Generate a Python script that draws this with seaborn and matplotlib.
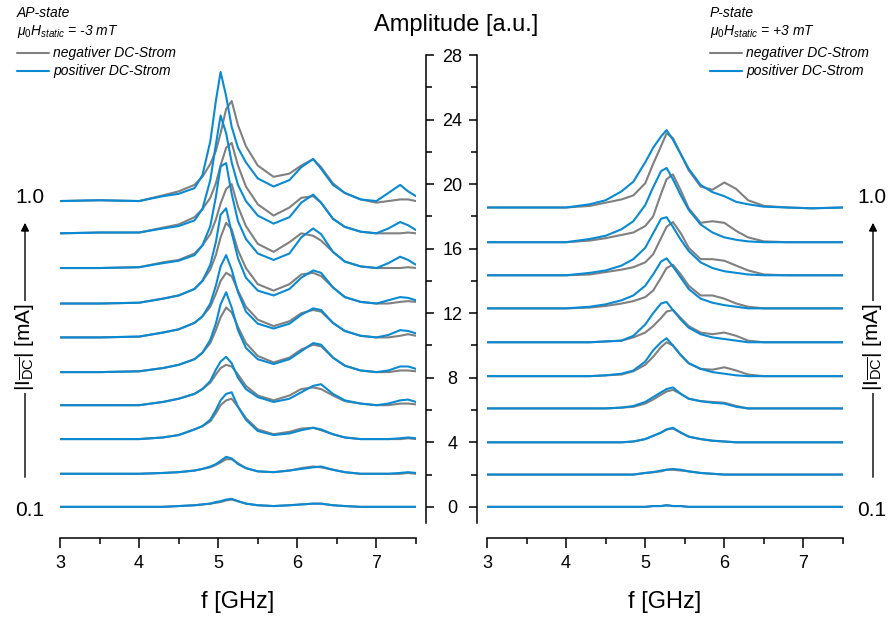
import matplotlib
matplotlib.use("Agg")
import numpy as np
import pandas as pd
import matplotlib.pyplot as plt
import seaborn as sns
from matplotlib.lines import Line2D

# frequency grids (GHz)
f_left = [3.0, 3.5, 4.0, 4.3, 4.5, 4.7, 4.8, 4.9, 4.97, 5.03, 5.1, 5.17, 5.25, 5.35,
          5.5, 5.7, 5.9, 6.05, 6.2, 6.3, 6.45, 6.6, 6.8, 7.0, 7.15, 7.3, 7.4, 7.5]
f_right = [3.0, 3.5, 4.0, 4.3, 4.5, 4.7, 4.85, 5.0, 5.1, 5.2, 5.27, 5.35, 5.45, 5.55,
           5.7, 5.85, 6.0, 6.15, 6.3, 6.5, 6.8, 7.1, 7.5]

# waterfall offsets, |I_DC| = 0.1 ... 1.0 mA
offsets_left = [0, 2.05, 4.2, 6.3, 8.35, 10.5, 12.6, 14.8, 16.95, 18.95]
offsets_right = [0, 2.0, 4.0, 6.1, 8.1, 10.2, 12.3, 14.35, 16.4, 18.55]

# AP-state, positive DC current (blue)
ap_pos = [
    [0, 0, 0, 0, 0.05, 0.1, 0.15, 0.2, 0.3, 0.35, 0.45, 0.5, 0.35, 0.2, 0.1, 0.05, 0.1, 0.15, 0.2, 0.2, 0.1, 0.05, 0, 0, 0, 0, 0, 0],
    [0, 0, 0, 0.05, 0.1, 0.2, 0.3, 0.45, 0.6, 0.8, 1.05, 0.95, 0.6, 0.35, 0.15, 0.1, 0.2, 0.3, 0.4, 0.45, 0.25, 0.1, 0, 0, 0, 0.05, 0.1, 0.05],
    [0, 0, 0, 0.1, 0.25, 0.6, 0.8, 1.2, 1.8, 2.4, 2.8, 2.9, 2.0, 1.2, 0.5, 0.25, 0.35, 0.55, 0.7, 0.6, 0.3, 0.1, 0, 0, 0, 0.05, 0.1, 0.05],
    [0, 0, 0, 0.2, 0.4, 0.7, 1.0, 1.5, 2.2, 2.7, 3.0, 2.6, 1.7, 1.0, 0.5, 0.2, 0.4, 0.8, 1.2, 1.3, 0.7, 0.3, 0.1, 0, 0.1, 0.3, 0.35, 0.2],
    [0, 0, 0.05, 0.25, 0.45, 0.8, 1.2, 2.0, 3.0, 4.2, 4.95, 4.0, 2.6, 1.5, 0.8, 0.5, 0.8, 1.3, 1.8, 1.7, 0.9, 0.4, 0.1, 0, 0.1, 0.35, 0.35, 0.2],
    [0, 0, 0.05, 0.3, 0.5, 0.9, 1.3, 2.1, 3.2, 4.4, 5.1, 4.2, 2.8, 1.6, 0.85, 0.55, 0.85, 1.4, 1.8, 1.7, 0.9, 0.4, 0.1, 0, 0.15, 0.45, 0.4, 0.25],
    [0, 0, 0.05, 0.3, 0.5, 0.9, 1.4, 2.4, 3.8, 5.5, 5.9, 4.4, 2.8, 1.6, 0.8, 0.5, 0.9, 1.6, 2.05, 1.9, 1.0, 0.4, 0.1, 0, 0.2, 0.4, 0.35, 0.2],
    [0, 0, 0.05, 0.3, 0.45, 0.8, 1.4, 2.6, 4.4, 6.3, 6.5, 4.6, 2.9, 1.8, 0.9, 0.5, 0.9, 1.9, 2.45, 2.1, 1.0, 0.4, 0.1, 0, 0.3, 0.7, 0.5, 0.2],
    [0, 0.05, 0.05, 0.3, 0.45, 0.8, 1.5, 3.3, 5.5, 7.3, 6.2, 4.4, 3.0, 2.0, 1.1, 0.6, 1.0, 1.9, 2.4, 1.9, 0.9, 0.4, 0.1, 0, 0.3, 0.7, 0.5, 0.2],
    [0, 0.05, 0, 0.3, 0.45, 0.8, 1.6, 3.7, 6.2, 8.0, 6.5, 4.6, 3.3, 2.4, 1.4, 0.9, 1.3, 2.1, 2.6, 2.0, 1.0, 0.5, 0.1, 0.0, 0.5, 1.0, 0.6, 0.3],
]
# AP-state, negative DC current (gray)
ap_neg = [
    [0, 0, 0, 0, 0.05, 0.1, 0.15, 0.2, 0.25, 0.3, 0.4, 0.45, 0.35, 0.2, 0.1, 0.05, 0.1, 0.15, 0.2, 0.2, 0.1, 0.05, 0, 0, 0, 0, 0, 0],
    [0, 0, 0, 0.05, 0.1, 0.2, 0.3, 0.4, 0.55, 0.7, 0.9, 0.9, 0.65, 0.35, 0.15, 0.1, 0.2, 0.35, 0.45, 0.4, 0.25, 0.1, 0, 0, 0, 0, 0.05, 0],
    [0, 0, 0, 0.1, 0.25, 0.6, 0.8, 1.1, 1.6, 2.1, 2.4, 2.5, 2.0, 1.3, 0.6, 0.3, 0.45, 0.65, 0.7, 0.55, 0.3, 0.1, 0, 0, 0, 0, 0.05, 0],
    [0, 0, 0, 0.2, 0.4, 0.7, 1.0, 1.4, 1.9, 2.3, 2.5, 2.4, 1.9, 1.2, 0.6, 0.3, 0.6, 1.0, 1.1, 1.0, 0.6, 0.25, 0.1, 0, 0, 0.1, 0.1, 0.05],
    [0, 0, 0.05, 0.25, 0.45, 0.8, 1.2, 1.8, 2.6, 3.4, 4.0, 3.7, 2.8, 1.8, 1.0, 0.6, 0.9, 1.4, 1.7, 1.6, 0.9, 0.4, 0.1, 0, 0, 0.1, 0.1, 0.05],
    [0, 0, 0.05, 0.3, 0.5, 0.9, 1.3, 1.9, 2.7, 3.5, 4.0, 3.8, 2.9, 1.9, 1.1, 0.7, 1.0, 1.5, 1.7, 1.6, 0.9, 0.4, 0.1, 0, 0, 0.1, 0.2, 0.1],
    [0, 0, 0.05, 0.3, 0.5, 0.9, 1.4, 2.1, 3.0, 4.1, 5.0, 4.6, 3.3, 2.2, 1.2, 0.8, 1.2, 1.8, 1.9, 1.7, 1.0, 0.4, 0.1, 0, 0, 0.1, 0.15, 0.1],
    [0, 0, 0.05, 0.35, 0.5, 0.9, 1.4, 2.1, 3.0, 4.0, 4.9, 5.2, 3.8, 2.6, 1.5, 1.0, 1.6, 2.15, 2.0, 1.7, 1.0, 0.4, 0.1, 0, 0, 0, 0.05, 0],
    [0, 0.05, 0.05, 0.35, 0.55, 1.0, 1.5, 2.2, 3.1, 4.2, 5.3, 5.6, 4.2, 2.9, 1.8, 1.1, 1.6, 2.2, 2.3, 1.9, 0.9, 0.4, 0.1, 0, 0, 0, 0.05, 0],
    [0, 0.05, 0, 0.35, 0.6, 1.0, 1.5, 2.3, 3.1, 4.2, 5.7, 6.2, 4.7, 3.4, 2.2, 1.5, 1.7, 2.2, 2.6, 2.1, 1.1, 0.5, 0.1, -0.1, 0, 0.1, 0.1, 0],
]
# P-state, positive DC current (blue)
p_pos = [
    [0, 0, 0, 0, 0, 0, 0, 0, 0.05, 0.05, 0.1, 0.05, 0.05, 0, 0, 0, 0, 0, 0, 0, 0, 0, 0],
    [0, 0, 0, 0, 0, 0, 0, 0.1, 0.15, 0.25, 0.3, 0.35, 0.3, 0.2, 0.1, 0.05, 0, 0, 0, 0, 0, 0, 0],
    [0, 0, 0, 0, 0, 0, 0.05, 0.2, 0.4, 0.6, 0.8, 0.9, 0.6, 0.35, 0.2, 0.1, 0.05, 0, 0, 0, 0, 0, 0],
    [0, 0, 0, 0, 0, 0.05, 0.15, 0.4, 0.7, 1.0, 1.2, 1.3, 0.9, 0.6, 0.45, 0.35, 0.3, 0.1, 0, 0, 0, 0, 0],
    [0, 0, 0, 0, 0.05, 0.15, 0.35, 0.9, 1.6, 2.1, 2.35, 1.9, 1.3, 0.8, 0.45, 0.25, 0.15, 0.05, 0, 0, 0, 0, 0],
    [0, 0, 0, 0, 0.05, 0.1, 0.4, 1.1, 1.8, 2.4, 2.5, 2.0, 1.4, 0.9, 0.5, 0.3, 0.2, 0.1, 0, 0, 0, 0, 0],
    [0, 0, 0, 0.1, 0.25, 0.5, 0.8, 1.4, 2.1, 2.9, 3.1, 2.6, 1.9, 1.2, 0.6, 0.35, 0.2, 0.1, 0, 0, 0, 0, 0],
    [0, 0, 0, 0.15, 0.3, 0.6, 1.0, 1.7, 2.6, 3.5, 3.6, 3.0, 2.2, 1.5, 0.8, 0.45, 0.25, 0.15, 0.05, 0, 0, 0, 0],
    [0, 0, 0, 0.2, 0.4, 0.8, 1.3, 2.3, 3.4, 4.4, 4.6, 3.9, 2.9, 2.0, 1.1, 0.6, 0.3, 0.15, 0.05, 0, 0, 0, 0],
    [0, 0, 0, 0.2, 0.45, 1.0, 1.6, 2.8, 3.7, 4.4, 4.8, 4.2, 3.3, 2.4, 1.4, 0.95, 0.7, 0.35, 0.2, 0.05, 0, -0.05, 0],
]
# P-state, negative DC current (gray)
p_neg = [
    [0, 0, 0, 0, 0, 0, 0, 0, 0.05, 0.05, 0.1, 0.05, 0.05, 0, 0, 0, 0, 0, 0, 0, 0, 0, 0],
    [0, 0, 0, 0, 0, 0, 0, 0.1, 0.15, 0.2, 0.3, 0.3, 0.25, 0.2, 0.1, 0.05, 0, 0, 0, 0, 0, 0, 0],
    [0, 0, 0, 0, 0, 0, 0.05, 0.2, 0.4, 0.6, 0.8, 0.85, 0.6, 0.35, 0.2, 0.1, 0.05, 0, 0, 0, 0, 0, 0],
    [0, 0, 0, 0, 0, 0.05, 0.1, 0.3, 0.55, 0.85, 1.05, 1.15, 0.9, 0.6, 0.45, 0.4, 0.35, 0.15, 0, 0, 0, 0, 0],
    [0, 0, 0, 0, 0.05, 0.1, 0.3, 0.7, 1.2, 1.8, 2.1, 1.9, 1.3, 0.8, 0.45, 0.4, 0.55, 0.35, 0.1, 0, 0, 0, 0],
    [0, 0, 0, 0, 0.05, 0.1, 0.3, 0.6, 1.0, 1.5, 1.9, 2.0, 1.5, 1.0, 0.6, 0.5, 0.6, 0.4, 0.1, 0, 0, 0, 0],
    [0, 0, 0, 0.05, 0.15, 0.3, 0.45, 0.7, 1.1, 1.9, 2.5, 2.7, 2.1, 1.4, 0.8, 0.8, 0.6, 0.3, 0.1, 0, 0, 0, 0],
    [0, 0, 0, 0.05, 0.2, 0.35, 0.5, 0.8, 1.3, 2.3, 3.0, 3.3, 2.6, 1.7, 1.0, 1.0, 0.9, 0.6, 0.3, 0.05, 0, 0, 0],
    [0, 0, 0, 0.1, 0.25, 0.45, 0.6, 1.0, 1.6, 3.0, 3.9, 4.2, 3.2, 2.1, 1.2, 1.3, 1.2, 0.7, 0.3, 0.05, 0, 0, 0],
    [0, 0, 0, 0.1, 0.3, 0.5, 0.75, 1.5, 2.7, 3.8, 4.6, 4.3, 3.3, 2.3, 1.3, 1.1, 1.55, 1.15, 0.45, 0.1, 0, -0.05, 0],
]

BLUE = "#0a8ad2"
GRAY = "#808080"
W, H = 889, 617

sns.set_style("ticks")
plt.rcParams['font.family'] = ['Liberation Sans', 'DejaVu Sans']
plt.rcParams['mathtext.fontset'] = 'custom'
plt.rcParams['mathtext.rm'] = 'Liberation Sans'
plt.rcParams['mathtext.it'] = 'Liberation Sans:italic'
plt.rcParams['axes.linewidth'] = 1.1
for key in ('text.color', 'axes.labelcolor', 'xtick.color', 'ytick.color', 'axes.edgecolor'):
    plt.rcParams[key] = 'black'


def fx(x):
    return x / W


def fy(y):
    return 1 - y / H


def long_table(freq, offsets, neg, pos):
    rows = []
    for k, off in enumerate(offsets):
        for pol, curves in (("negativer DC-Strom", neg), ("positiver DC-Strom", pos)):
            for f, a in zip(freq, curves[k]):
                rows.append({"f": f, "amp": a + off, "curve": k, "pol": pol})
    return pd.DataFrame(rows)


fig = plt.figure(figsize=(W / 100, H / 100), dpi=100)
ax_l = fig.add_axes([fx(60), fy(523), 356 / W, 468 / H])
ax_r = fig.add_axes([fx(487), fy(523), 356 / W, 468 / H])

palette = {"negativer DC-Strom": GRAY, "positiver DC-Strom": BLUE}
for ax, freq, offs, neg, pos in ((ax_l, f_left, offsets_left, ap_neg, ap_pos),
                                 (ax_r, f_right, offsets_right, p_neg, p_pos)):
    df = long_table(freq, offs, neg, pos)
    sns.lineplot(data=df, x="f", y="amp", hue="pol", units="curve", estimator=None,
                 sort=False, palette=palette, linewidth=1.5, ax=ax, legend=False)
    ax.set_xlim(3, 7.5)
    ax.set_ylim(-1, 28)
    ax.set_xticks([3, 4, 5, 6, 7])
    ax.set_xticks([3.5, 4.5, 5.5, 6.5, 7.5], minor=True)
    ax.set_yticks(range(0, 29, 4))
    ax.set_yticks(range(2, 28, 4), minor=True)
    ax.set_xlabel("f [GHz]", fontsize=17, labelpad=14)
    ax.set_ylabel("")
    ax.spines['top'].set_visible(False)
    ax.spines['bottom'].set_position(('outward', 10.8))
    ax.tick_params(axis='x', which='major', length=7, width=1.1, labelsize=13, pad=5)
    ax.tick_params(axis='x', which='minor', length=4, width=1.1)
    ax.tick_params(axis='y', which='major', length=6, width=1.1)
    ax.tick_params(axis='y', which='minor', length=4, width=1.1)
    ax.patch.set_alpha(0)

ax_l.spines['left'].set_visible(False)
ax_l.spines['right'].set_position(('outward', 7.2))
ax_l.yaxis.tick_right()
ax_l.tick_params(axis='y', labelright=True, labelleft=False, labelsize=13, pad=13)
plt.setp(ax_l.get_yticklabels(), ha='center')

ax_r.spines['right'].set_visible(False)
ax_r.spines['left'].set_position(('outward', 7.2))
ax_r.tick_params(axis='y', labelleft=False)

fig.text(fx(456), fy(25), "Amplitude [a.u.]", fontsize=17, ha='center', va='center')

# header blocks with legend
for x0, state, field in ((17, "AP-state", "-3 mT"), (710, "P-state", "+3 mT")):
    fig.text(fx(x0), fy(13), state, fontsize=10, style='italic', va='center')
    fig.text(fx(x0), fy(32), r"$\mu_0H_{static}$ = " + field, fontsize=10,
             style='italic', va='center')
    for yy, col, lab in ((53, GRAY, "negativer DC-Strom"), (71, BLUE, "positiver DC-Strom")):
        fig.add_artist(Line2D([fx(x0), fx(x0 + 32)], [fy(yy), fy(yy)], color=col,
                              lw=1.5, transform=fig.transFigure))
        fig.text(fx(x0 + 36), fy(yy), lab, fontsize=10, style='italic', va='center')

# current axis arrows on both sides
for xa, xt in ((25, 30), (873, 872)):
    fig.text(fx(xt), fy(197), "1.0", fontsize=15, ha='center', va='center')
    fig.text(fx(xt), fy(511), "0.1", fontsize=15, ha='center', va='center')
    fig.add_artist(matplotlib.patches.FancyArrowPatch(
        (fx(xa), fy(480)), (fx(xa), fy(220)), transform=fig.transFigure,
        arrowstyle='-|>', mutation_scale=12, color='black', lw=1.0))
    fig.text(fx(xa), fy(347), r"|I$_{\overline{\mathregular{DC}}}$| [mA]", fontsize=15,
             rotation=90, ha='center', va='center',
             bbox=dict(facecolor='white', edgecolor='none', pad=1.5))

fig.savefig("out.png", dpi=100)
